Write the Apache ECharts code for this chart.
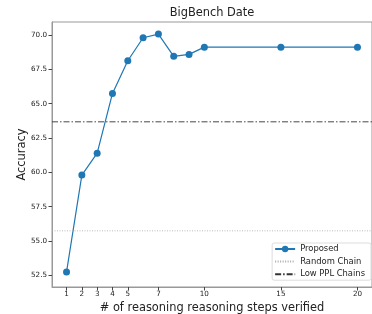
<!DOCTYPE html>
<html>
<head>
<meta charset="utf-8">
<script src="https://cdn.jsdelivr.net/npm/echarts@6/dist/echarts.min.js"></script>
<style>
  html, body { margin: 0; padding: 0; background: #fff; }
  #chart { width: 372px; height: 314px; }
</style>
</head>
<body>
<div id="chart"></div>
<script>
// data
var steps = [1, 2, 3, 4, 5, 6, 7, 8, 9, 10, 15, 20];
var proposed = [52.75, 59.8, 61.4, 65.75, 68.13, 69.8, 70.07, 68.45, 68.59, 69.12, 69.12, 69.12];
var randomChain = 55.74;
var lowPplChains = 63.68;
var xTicks = [1, 2, 3, 4, 5, 7, 10, 15, 20];
var yTicks = [52.5, 55.0, 57.5, 60.0, 62.5, 65.0, 67.5, 70.0];

var xMin = 0.05, xMax = 20.95;
var font = 'DejaVu Sans';

var chart = echarts.init(document.getElementById('chart'));

var option = {
  animation: false,
  backgroundColor: '#fff',
  title: {
    text: 'BigBench Date',
    left: 212, top: 8, textAlign: 'center', padding: 0,
    textStyle: { fontFamily: font, fontSize: 11.4, fontWeight: 'normal', color: '#222' }
  },
  grid: {
    left: 52, right: 0, top: 22, bottom: 27,
    outerBoundsMode: 'none',
    show: true, borderColor: '#999', borderWidth: 1
  },
  legend: {
    orient: 'vertical',
    right: 1, top: 243,
    itemWidth: 20, itemHeight: 8, itemGap: 2.6,
    padding: [1, 6, 1, 2],
    backgroundColor: '#fff',
    borderColor: '#ddd', borderWidth: 1, borderRadius: 2,
    textStyle: { fontFamily: font, fontSize: 8.4, lineHeight: 10, color: '#222' },
    data: [
      { name: 'Proposed' },
      { name: 'Random Chain', itemStyle: { opacity: 0 } },
      { name: 'Low PPL Chains', itemStyle: { opacity: 0 } }
    ]
  },
  xAxis: {
    type: 'value', min: xMin, max: xMax,
    name: '# of reasoning reasoning steps verified',
    nameLocation: 'middle', nameGap: 12,
    nameTextStyle: { fontFamily: font, fontSize: 11.4, color: '#222' },
    axisLine: { lineStyle: { color: '#999' } },
    axisTick: { customValues: xTicks, length: 3.5, lineStyle: { color: '#444' } },
    axisLabel: { customValues: xTicks, fontFamily: font, fontSize: 7.2, color: '#222', margin: 4 },
    splitLine: { show: false }
  },
  yAxis: {
    type: 'value', min: 51.65, max: 70.95,
    name: 'Accuracy',
    nameLocation: 'middle', nameGap: 24, nameMoveOverlap: false,
    nameTextStyle: { fontFamily: font, fontSize: 11.4, color: '#222' },
    axisLine: { show: true, lineStyle: { color: '#999' } },
    axisTick: { show: true, customValues: yTicks, length: 3.5, lineStyle: { color: '#444' } },
    axisLabel: {
      customValues: yTicks, fontFamily: font, fontSize: 7.2, color: '#222', margin: 5,
      formatter: function (v) { return v.toFixed(1); }
    },
    splitLine: { show: false }
  },
  series: [
    {
      name: 'Proposed', type: 'line',
      data: steps.map(function (s, i) { return [s, proposed[i]]; }),
      symbol: 'circle', symbolSize: 7,
      itemStyle: { color: '#1f77b4' },
      lineStyle: { color: '#1f77b4', width: 1.2 },
      z: 3
    },
    {
      name: 'Random Chain', type: 'line',
      data: [[xMin, randomChain], [xMax, randomChain]],
      symbol: 'none',
      itemStyle: { color: '#aaa' },
      lineStyle: { color: '#aaa', width: 0.8, type: [1, 1.5] }
    },
    {
      name: 'Low PPL Chains', type: 'line',
      data: [[xMin, lowPplChains], [xMax, lowPplChains]],
      symbol: 'none',
      itemStyle: { color: '#333' },
      lineStyle: { color: '#333', width: 0.9, type: [6, 2, 1.5, 2] }
    }
  ]
};

chart.setOption(option);
</script>
</body>
</html>
